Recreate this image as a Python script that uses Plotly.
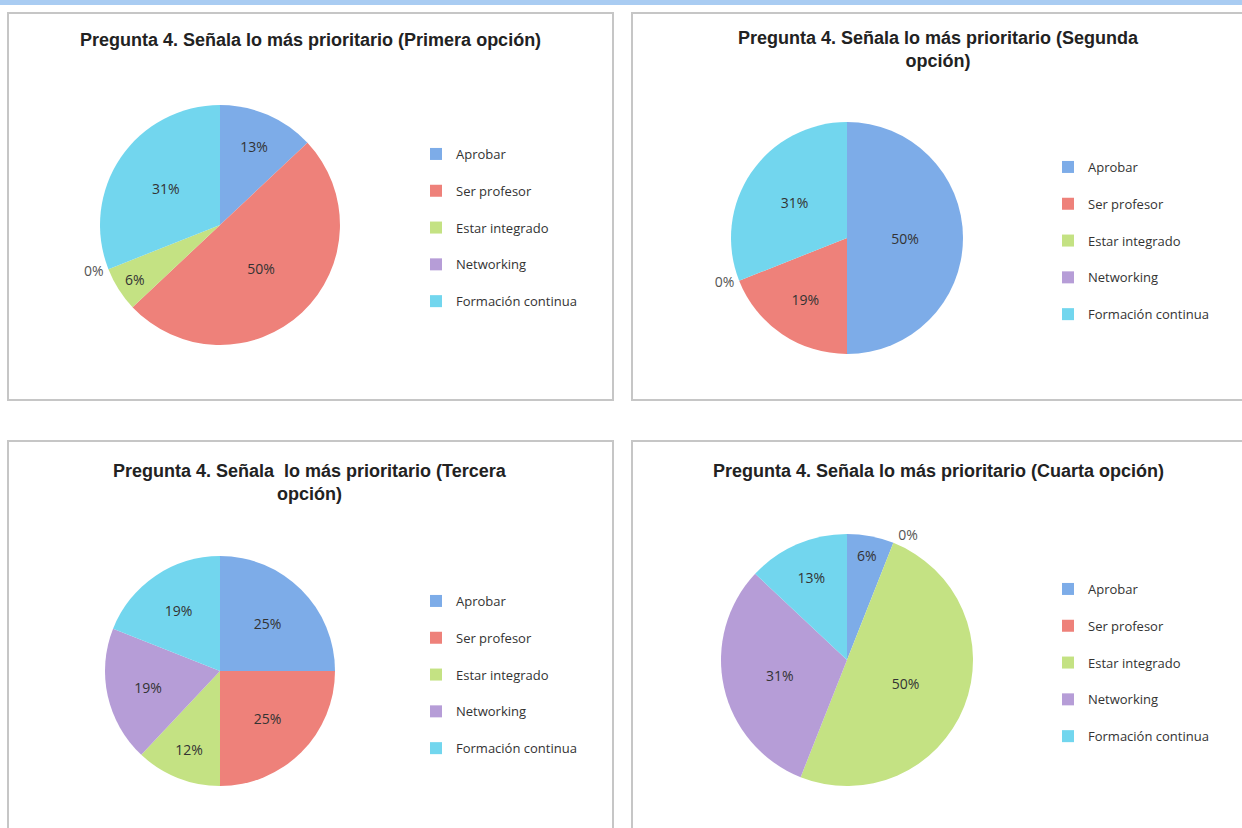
import plotly.graph_objects as go

W, H = 1242, 828

categories = ["Aprobar", "Ser profesor", "Estar integrado", "Networking", "Formación continua"]
primera = [13, 50, 6, 0, 31]
segunda = [50, 19, 0, 0, 31]
tercera = [25, 25, 12, 19, 19]
cuarta = [6, 0, 50, 31, 13]

titles = [
    "Pregunta 4. Señala lo más prioritario (Primera opción)",
    "Pregunta 4. Señala lo más prioritario (Segunda<br>opción)",
    "Pregunta 4. Señala  lo más prioritario (Tercera<br>opción)",
    "Pregunta 4. Señala lo más prioritario (Cuarta opción)",
]
colors = ["#7DACE8", "#EE817A", "#C4E283", "#B69DD7", "#72D6EE"]

def px(x):
    return x / W

def py(y):
    return 1 - y / H

fig = go.Figure()

panels = [
    dict(box=(8, 13, 613, 400), cx=220, cy=225, d=240, tx=310, ty=28, lx=416, ly=139),
    dict(box=(632, 13, 1262, 400), cx=847, cy=238, d=232, tx=938, ty=26, lx=1048, ly=152),
    dict(box=(8, 441, 613, 848), cx=220, cy=671, d=230, tx=310, ty=459, lx=416, ly=586),
    dict(box=(632, 441, 1262, 848), cx=847, cy=660, d=252, tx=938, ty=459, lx=1048, ly=574),
]
series = [primera, segunda, tercera, cuarta]

shapes = [dict(type="rect", xref="paper", yref="paper", x0=0, x1=1, y0=py(5), y1=1,
               fillcolor="#A9CCF2", line=dict(width=0), layer="below")]
annotations = []
for i, (p, vals) in enumerate(zip(panels, series)):
    l, t, r, b = p["box"]
    shapes.append(dict(type="rect", xref="paper", yref="paper",
                       x0=px(l), x1=px(r), y0=py(b), y1=py(t),
                       line=dict(color="#C6C6C6", width=2), fillcolor="rgba(0,0,0,0)", layer="below"))
    annotations.append(dict(text="<b>" + titles[i] + "</b>", xref="paper", yref="paper",
                            x=px(p["tx"]), y=py(p["ty"]), xanchor="center", yanchor="top",
                            showarrow=False, align="center",
                            font=dict(family="Liberation Sans, Arial", size=18, color="#222")))
    rad = p["d"] / 2
    # label every slice; zero slices outside (one label per run of zeros)
    texts = []
    for k, v in enumerate(vals):
        if v == 0 and k > 0 and vals[k - 1] == 0:
            texts.append("")
        else:
            texts.append(f"{v}%")
    textpos = ["inside" if v > 0 else "outside" for v in vals]
    legname = "legend" if i == 0 else f"legend{i+1}"
    fig.add_trace(go.Pie(
        labels=[c + "\u200b" * i + "<br> " for c in categories],
        values=vals,
        text=texts,
        texttemplate="%{text}",
        textposition=textpos,
        insidetextorientation="horizontal",
        textfont=dict(family="Open Sans, Lato", size=14, color="#333333"),
        outsidetextfont=dict(family="Open Sans, Lato", size=14, color="#555555"),
        marker=dict(colors=colors, line=dict(width=0)),
        sort=False, direction="clockwise", rotation=0,
        domain=dict(x=[px(p["cx"] - rad), px(p["cx"] + rad)], y=[py(p["cy"] + rad), py(p["cy"] - rad)]),
        hoverinfo="label+percent",
        legend=legname,
        showlegend=True,
    ))
    fig.update_layout(**{legname: dict(
        x=px(p["lx"]), y=py(p["ly"]), xanchor="left", yanchor="top",
        bgcolor="rgba(0,0,0,0)", valign="top",
        font=dict(family="Open Sans, Lato", size=13, color="#333333"),
        itemsizing="constant", itemwidth=30,
    )})

fig.update_layout(
    width=W, height=H,
    margin=dict(l=0, r=0, t=0, b=0),
    paper_bgcolor="white", plot_bgcolor="white",
    shapes=shapes, annotations=annotations,
)

fig.write_html("out.html")
